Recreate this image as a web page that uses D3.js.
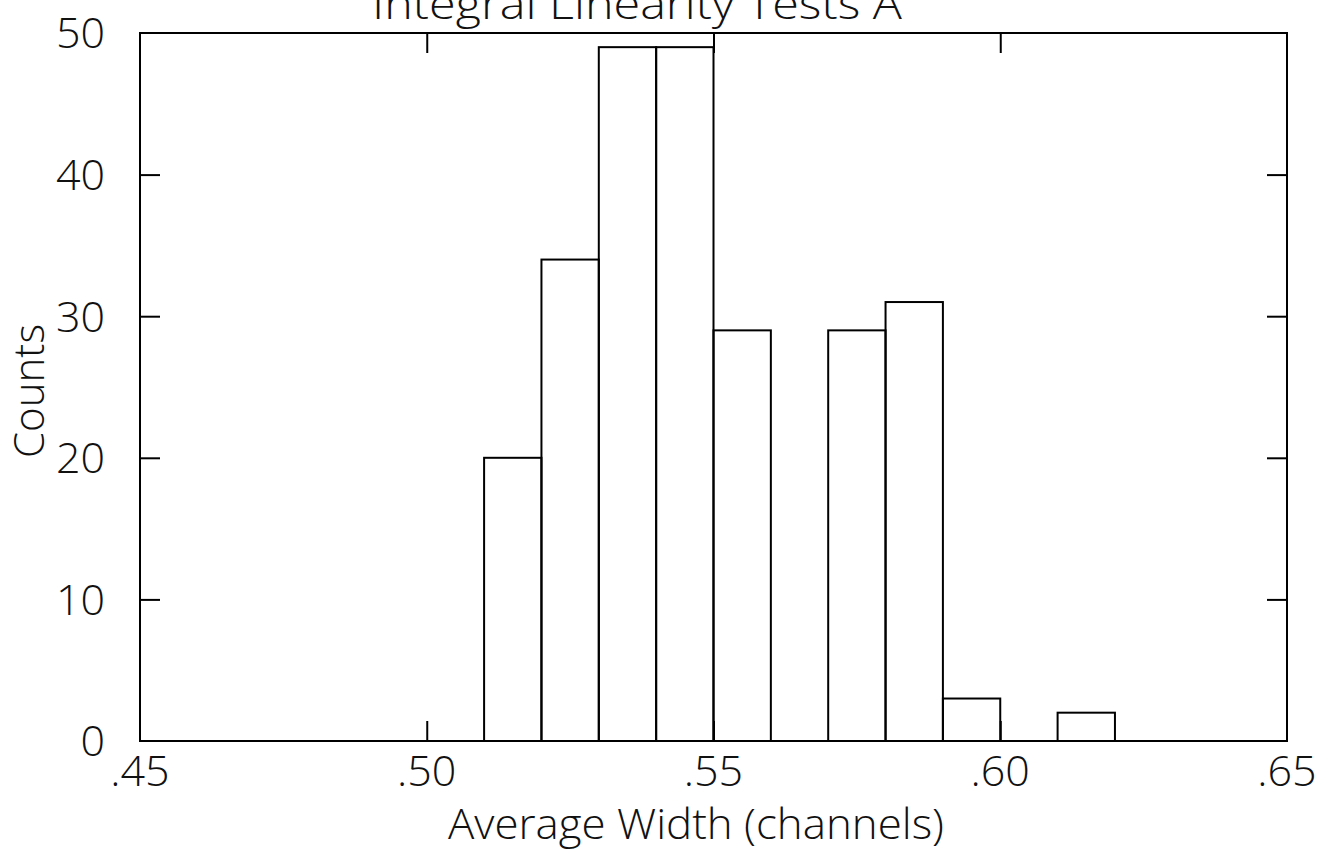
<!DOCTYPE html>
<html>
<meta charset="UTF-8">
<head>
  <style>
    body { margin: 0; background: #fff; }
    text { font-family: "Open Sans", "DejaVu Sans", sans-serif; font-weight: 300; fill: #111; }
  </style>
</head>
<script src="https://d3js.org/d3.v7.min.js"></script>
<body>
  <div id="chart"></div>
  <script>
    // histogram bins (left edge of each .01 bin) and their counts
    var binStarts = [0.51, 0.52, 0.53, 0.54, 0.55, 0.56, 0.57, 0.58, 0.59, 0.60, 0.61];
    var counts = [20, 34, 49, 49, 29, 0, 29, 31, 3, 0, 2];
    var binWidth = 0.01;

    var xTicks = [0.45, 0.50, 0.55, 0.60, 0.65];
    var yTicks = [0, 10, 20, 30, 40, 50];

    var title = "Integral Linearity Tests A";
    var xTitle = "Average Width (channels)";
    var yTitle = "Counts";

    var width = 1335;
    var height = 855;
    var margin = { top: 33, right: 48, bottom: 114, left: 140 };

    var svg = d3.select("#chart").append("svg")
      .attr("width", width)
      .attr("height", height);

    var x = d3.scaleLinear()
      .domain([0.45, 0.65])
      .range([margin.left, width - margin.right]);

    var y = d3.scaleLinear()
      .domain([0, 50])
      .range([height - margin.bottom, margin.top]);

    var bins = binStarts.map((b, i) => ({ x0: b, x1: b + binWidth, n: counts[i] }));

    // bars, outlined only
    svg.append("g")
      .selectAll("rect")
      .data(bins.filter(d => d.n > 0))
      .enter()
      .append("rect")
      .attr("x", d => x(d.x0))
      .attr("y", d => y(d.n))
      .attr("width", d => x(d.x1) - x(d.x0))
      .attr("height", d => y(0) - y(d.n))
      .attr("fill", "none")
      .attr("stroke", "#000")
      .attr("stroke-width", 2);

    // plot frame
    svg.append("rect")
      .attr("x", x(0.45))
      .attr("y", y(50))
      .attr("width", x(0.65) - x(0.45))
      .attr("height", y(0) - y(50))
      .attr("fill", "none")
      .attr("stroke", "#000")
      .attr("stroke-width", 2);

    var fmt = d => d3.format(".2f")(d).replace(/^0/, "");

    // inward ticks on all four sides
    var tickLen = 20;
    var axes = [
      { axis: d3.axisBottom(x).tickValues(xTicks.slice(1, -1)), t: `translate(0,${y(0)})` },
      { axis: d3.axisTop(x).tickValues(xTicks.slice(1, -1)), t: `translate(0,${y(50)})` },
      { axis: d3.axisLeft(y).tickValues(yTicks.slice(1, -1)), t: `translate(${x(0.45)},0)` },
      { axis: d3.axisRight(y).tickValues(yTicks.slice(1, -1)), t: `translate(${x(0.65)},0)` }
    ];
    axes.forEach(a => {
      var g = svg.append("g")
        .attr("transform", a.t)
        .call(a.axis.tickSize(-tickLen).tickFormat(""));
      g.select(".domain").remove();
      g.selectAll("line").attr("stroke", "#000").attr("stroke-width", 2);
    });

    // tick labels
    svg.append("g")
      .selectAll("text")
      .data(xTicks)
      .enter()
      .append("text")
      .attr("x", d => x(d))
      .attr("y", y(0) + 45)
      .attr("text-anchor", "middle")
      .attr("font-size", 43)
      .text(fmt);

    svg.append("g")
      .selectAll("text")
      .data(yTicks)
      .enter()
      .append("text")
      .attr("x", margin.left - 35)
      .attr("y", d => y(d))
      .attr("dy", "0.36em")
      .attr("text-anchor", "end")
      .attr("font-size", 43)
      .text(d => d);

    // titles
    svg.append("text")
      .attr("x", 637)
      .attr("y", 19)
      .attr("text-anchor", "middle")
      .attr("font-size", 42)
      .attr("textLength", 530)
      .attr("lengthAdjust", "spacingAndGlyphs")
      .text(title);

    svg.append("text")
      .attr("x", 696)
      .attr("y", 839)
      .attr("text-anchor", "middle")
      .attr("font-size", 42)
      .attr("textLength", 496)
      .attr("lengthAdjust", "spacingAndGlyphs")
      .text(xTitle);

    svg.append("text")
      .attr("transform", "translate(44,391) rotate(-90)")
      .attr("text-anchor", "middle")
      .attr("font-size", 42)
      .text(yTitle);
  </script>
</body>
</html>
